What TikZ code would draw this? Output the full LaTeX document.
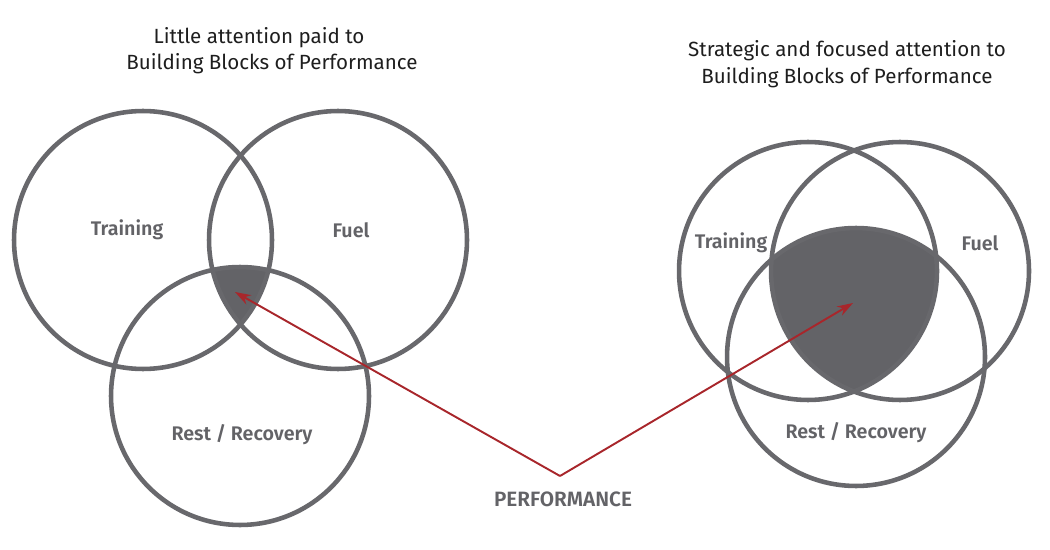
\documentclass[tikz,border=0pt]{standalone}
\usepackage{fontspec}
\setmainfont{Fira Sans}
\newfontfamily\labelfont{Fira Sans}[UprightFont=* SemiBold]
\definecolor{ring}{HTML}{68686C}
\definecolor{core}{HTML}{636367}
\definecolor{pointer}{HTML}{A8262B}
\definecolor{ink}{HTML}{1E1E1E}
\usetikzlibrary{arrows.meta, positioning}

\begin{document}
\begin{tikzpicture}[x=0.02cm, y=-0.02cm,
  ring/.style={draw=ring, line width=2.6pt},
  blocklabel/.style={font=\labelfont\fontsize{11.2}{14}\selectfont, text=ring!95!black},
  titletext/.style={font=\fontsize{11.7}{15.5}\selectfont, text=ink, align=center},
  pointer/.style={draw=pointer, line width=1.1pt, -{Stealth[length=9pt, width=6pt]}}]
\useasboundingbox (0,0) rectangle (1050,550);

% little attention
\coordinate (trainL) at (143,240);
\coordinate (fuelL)  at (338,240);
\coordinate (restL)  at (240,396);
\begin{scope}
  \clip (trainL) circle[radius=2.58cm];
  \clip (fuelL) circle[radius=2.58cm];
  \fill[core] (restL) circle[radius=2.58cm];
\end{scope}
\draw[ring] (trainL) circle[radius=2.58cm];
\draw[ring] (fuelL) circle[radius=2.58cm];
\draw[ring] (restL) circle[radius=2.58cm];

% focused attention
\coordinate (trainR) at (808,271);
\coordinate (fuelR)  at (900,271);
\coordinate (restR)  at (856,357);
\begin{scope}
  \clip (trainR) circle[radius=2.58cm];
  \clip (fuelR) circle[radius=2.58cm];
  \fill[core] (restR) circle[radius=2.58cm];
\end{scope}
\draw[ring] (trainR) circle[radius=2.58cm];
\draw[ring] (fuelR) circle[radius=2.58cm];
\draw[ring] (restR) circle[radius=2.58cm];

\node[titletext] (titleL1) at (259,38) {Little attention paid to};
\node[titletext] (titleL2) at (272,64) {Building Blocks of Performance};
\node[titletext] (titleR) at (847,64) {Strategic and focused attention to\\Building Blocks of Performance};

\node[blocklabel] (lblTrainL) at (127,230) {Training};
\node[blocklabel] (lblFuelL)  at (351,230) {Fuel};
\node[blocklabel] (lblRestL)  at (242,435) {Rest / Recovery};
\node[blocklabel] (lblTrainR) at (731,243) {Training};
\node[blocklabel] (lblFuelR)  at (980,243) {Fuel};
\node[blocklabel] (lblRestR)  at (856,433) {Rest / Recovery};

\coordinate (apex) at (560,476);
\coordinate (tipL) at (235,292);
\coordinate (tipR) at (853,303);
\node[blocklabel, font=\labelfont\fontsize{11.8}{14}\selectfont] (perf) at (563,499) {PERFORMANCE};
\draw[pointer] (apex) -- (tipL);
\draw[pointer] (apex) -- (tipR);
\end{tikzpicture}
\end{document}
